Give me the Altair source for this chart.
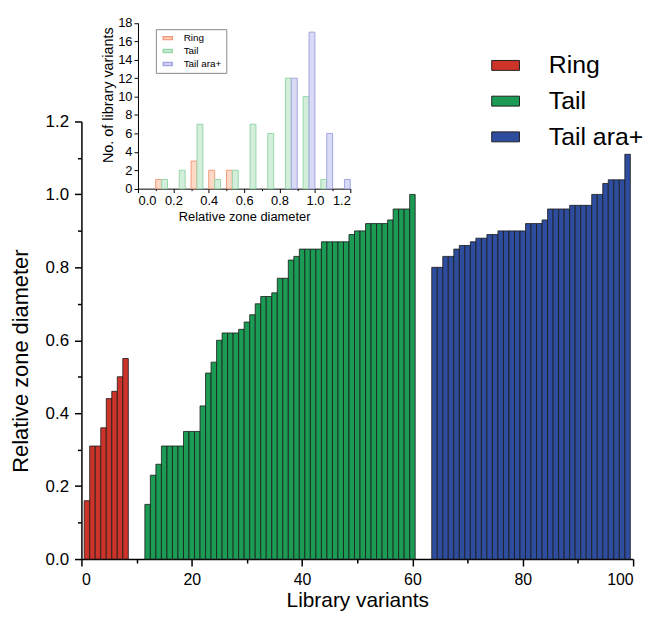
import altair as alt
import pandas as pd

# ---- data ----
series_names = ["Ring", "Tail", "Tail ara+"]

ring_start = 1
ring_vals = [0.16, 0.31, 0.31, 0.36, 0.44, 0.46, 0.50, 0.55]

tail_start = 12
tail_vals = [0.15, 0.23, 0.26, 0.31, 0.31, 0.31, 0.31, 0.35, 0.35, 0.35,
             0.42, 0.51, 0.54, 0.60, 0.62, 0.62, 0.62, 0.63, 0.65, 0.67,
             0.70, 0.72, 0.72, 0.73, 0.77, 0.77, 0.82, 0.83, 0.85, 0.85,
             0.85, 0.85, 0.87, 0.87, 0.87, 0.87, 0.87, 0.89, 0.90, 0.90,
             0.92, 0.92, 0.92, 0.92, 0.93, 0.96, 0.96, 0.96, 1.00]

ara_start = 64
ara_vals = [0.80, 0.80, 0.83, 0.83, 0.85, 0.86, 0.86, 0.87, 0.88, 0.88,
            0.89, 0.89, 0.90, 0.90, 0.90, 0.90, 0.90, 0.92, 0.92, 0.92,
            0.93, 0.96, 0.96, 0.96, 0.96, 0.97, 0.97, 0.97, 0.97, 1.00,
            1.00, 1.03, 1.04, 1.04, 1.04, 1.11]

# inset histogram (bin start, counts per series)
hist_bins = [0.1, 0.2, 0.3, 0.4, 0.5, 0.6, 0.7, 0.8, 0.9, 1.0, 1.1]
ring_counts = [1, 0, 3, 2, 2, 0, 0, 0, 0, 0, 0]
tail_counts = [1, 2, 7, 1, 2, 7, 6, 12, 10, 1, 0]
ara_counts = [0, 0, 0, 0, 0, 0, 0, 12, 17, 6, 1]

# ---- tables ----
rows = []
for name, start, vals in [("Ring", ring_start, ring_vals),
                          ("Tail", tail_start, tail_vals),
                          ("Tail ara+", ara_start, ara_vals)]:
    for i, v in enumerate(vals):
        rows.append({"variant": start + i, "value": v, "series": name})
main_df = pd.DataFrame(rows)

hrows = []
for name, counts in [("Ring", ring_counts), ("Tail", tail_counts), ("Tail ara+", ara_counts)]:
    for b, c in zip(hist_bins, counts):
        if c > 0:
            hrows.append({"bin": b, "count": c, "group": name})
hist_df = pd.DataFrame(hrows)

FONT = "Liberation Sans"

main_colors = ["#cc3329", "#1b9b54", "#2e4d9f"]
inset_fill = ["#fcd8c6", "#d3efdb", "#d9dbf4"]
inset_stroke = ["#f29a7c", "#97d6aa", "#a3a6e2"]

legend_path = "M-0.5,-0.5H2.3V0.5H-0.5Z"
inset_path = "M-0.5,-0.5H2.5V0.5H-0.5Z"

bars = alt.Chart(main_df).transform_calculate(
    x0="datum.variant - 0.5", x1="datum.variant + 0.5"
).mark_bar(stroke="#1a1a1a", strokeWidth=0.8).encode(
    x=alt.X("x0:Q", title="Library variants",
            scale=alt.Scale(domain=[0, 100], nice=False, zero=False),
            axis=alt.Axis(orient="bottom",
                          values=list(range(0, 101, 10)),
                          labelExpr="datum.value % 20 == 0 ? datum.label : ''",
                          tickSize={"condition": {"test": "datum.value % 20 != 0", "value": 4}, "value": 7},
                          labelFontSize=16, titleFontSize=21, labelPadding=6,
                          titleY=48, titleBaseline="alphabetic",
                          domainWidth=1.5, tickWidth=1.5)),
    x2="x1:Q",
    y=alt.Y("value:Q", title="Relative zone diameter",
            scale=alt.Scale(domain=[0, 1.2], nice=False),
            axis=alt.Axis(orient="left",
                          values=[round(i * 0.1, 1) for i in range(13)],
                          labelExpr="round(datum.value*10) % 2 == 0 ? format(datum.value, '.1f') : ''",
                          tickSize={"condition": {"test": "round(datum.value*10) % 2 == 1", "value": 4}, "value": 7},
                          labelFontSize=17, titleFontSize=22, labelPadding=6,
                          titleX=-54, titleY=241, titleBaseline="alphabetic",
                          domainWidth=1.5, tickWidth=1.5)),
    y2=alt.datum(0),
    color=alt.Color("series:N",
                    scale=alt.Scale(domain=series_names, range=main_colors),
                    legend=alt.Legend(orient="none", legendX=406, legendY=-69, title=None,
                                      symbolType=legend_path, symbolSize=400,
                                      symbolStrokeColor="#222", symbolStrokeWidth=1,
                                      symbolOpacity=1,
                                      labelFontSize=25, labelOffset=40, rowPadding=10,
                                      labelFont=FONT, labelColor="#000", padding=0)),
)

inset_legend = alt.Legend(orient="none", legendX=75, legendY=-93, title=None,
                          symbolType=inset_path, symbolSize=36,
                          labelFontSize=10, labelOffset=14, rowPadding=3,
                          labelFont=FONT, labelColor="#000",
                          strokeColor="#888", fillColor="#fff", padding=4)

inset = alt.Chart(hist_df).transform_calculate(
    k="indexof(['Ring', 'Tail', 'Tail ara+'], datum.group)",
    b0="datum.bin + datum.k * 0.1 / 3",
    b1="datum.bin + (datum.k + 1) * 0.1 / 3",
).mark_bar(strokeWidth=1).encode(
    x=alt.X("b0:Q", title="Relative zone diameter",
            scale=alt.Scale(domain=[0, 1.2], range=[57, 271], nice=False, zero=False),
            axis=alt.Axis(orient="bottom", offset=-373.3,
                          values=[round(i * 0.1, 1) for i in range(13)],
                          labelExpr="round(datum.value*10) % 2 == 0 ? format(datum.value, '.1f') : ''",
                          tickSize={"condition": {"test": "round(datum.value*10) % 2 == 1", "value": 2}, "value": 4},
                          labelFontSize=13, titleFontSize=13, labelPadding=2,
                          titlePadding=3, domainWidth=1, tickWidth=1)),
    x2="b1:Q",
    y=alt.Y("count:Q", title="No. of library variants",
            scale=alt.Scale(domain=[0, 18], range=[67.7, -99.3], nice=False),
            axis=alt.Axis(orient="left", offset=-57,
                          values=list(range(0, 19, 2)),
                          tickSize=4,
                          labelFontSize=13, titleFontSize=14.5, labelPadding=2,
                          titlePadding=2, titleY=-27, domainWidth=1, tickWidth=1)),
    y2=alt.datum(0),
    fill=alt.Fill("group:N", scale=alt.Scale(range=inset_fill), legend=inset_legend),
    stroke=alt.Stroke("group:N", scale=alt.Scale(range=inset_stroke), legend=inset_legend),
)

chart = alt.layer(bars, inset).resolve_scale(
    x="independent", y="independent"
).resolve_axis(
    x="independent", y="independent"
).properties(
    width=556, height=441,
    autosize=alt.AutoSizeParams(type="none"),
    padding={"left": 74, "top": 112, "right": 14, "bottom": 53},
    background="white",
).configure_view(stroke=None).configure_axis(
    grid=False, domainColor="#000", tickColor="#000",
    labelColor="#000", titleColor="#000",
    labelFont=FONT, titleFont=FONT, titleFontWeight="normal",
)

chart.save("out.html", embed_options={"renderer": "svg", "actions": False})
